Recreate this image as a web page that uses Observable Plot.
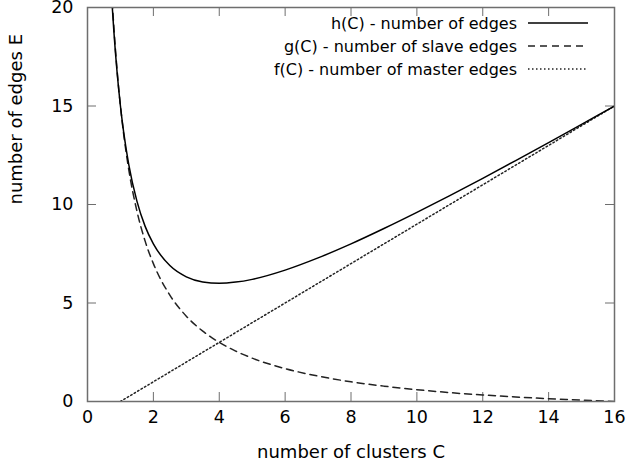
<!DOCTYPE html>
<html>
<head>
<meta charset="utf-8">
<script src="https://cdn.jsdelivr.net/npm/d3@7"></script>
<script src="https://cdn.jsdelivr.net/npm/@observablehq/plot@0.6"></script>
<style>
  html, body { margin: 0; padding: 0; background: #fff; }
  #chart svg { display: block; background: #fff; }
</style>
</head>
<body>
<div id="chart"></div>
<script>
// Values
const clusters = [0.75, 0.8, 0.9, 1, 1.1, 1.25, 1.5, 1.75, 2, 2.5, 3, 3.5, 4, 4.5, 5, 6, 7, 8, 9, 10, 11, 12, 13, 14, 15, 16];
const hEdges = [20.08, 18.8, 16.68, 15, 13.65, 12.05, 10.17, 8.89, 8, 6.9, 6.33, 6.07, 6, 6.06, 6.2, 6.67, 7.29, 8, 8.78, 9.6, 10.45, 11.33, 12.23, 13.14, 14.07, 15];
const gEdges = [20.33, 19, 16.78, 15, 13.55, 11.8, 9.67, 8.14, 7, 5.4, 4.33, 3.57, 3, 2.56, 2.2, 1.67, 1.29, 1, 0.78, 0.6, 0.45, 0.33, 0.23, 0.14, 0.07, 0];
const fClusters = [1, 2, 4, 6, 8, 10, 12, 14, 16];
const fEdges = [0, 1, 3, 5, 7, 9, 11, 13, 15];
const xTicks = [0, 2, 4, 6, 8, 10, 12, 14, 16];
const yTicks = [0, 5, 10, 15, 20];
const seriesNames = ["h(C) - number of edges", "g(C) - number of slave edges", "f(C) - number of master edges"];

const hData = clusters.map((c, i) => ({C: c, E: hEdges[i]}));
const gData = clusters.map((c, i) => ({C: c, E: gEdges[i]}));
const fData = fClusters.map((c, i) => ({C: c, E: fEdges[i]}));

const W = 626, H = 471;
const mL = 87, mR = 12, mT = 7, mB = 70;
const pw = W - mL - mR, ph = H - mT - mB;
const tickLen = 9;
const font = "DejaVu Sans";
const frameColor = "#6e6e6e";
const styles = [
  {stroke: "#000", strokeWidth: 1.5, dash: null},
  {stroke: "#222", strokeWidth: 1.5, dash: "7,5"},
  {stroke: "#222", strokeWidth: 1.5, dash: "1.5,2.5"}
];

const plot = Plot.plot({
  width: W, height: H,
  marginLeft: mL, marginRight: mR, marginTop: mT, marginBottom: mB,
  style: {fontFamily: font, background: "#fff"},
  x: {domain: [0, 16], axis: null},
  y: {domain: [0, 20], axis: null},
  marks: [
    // inward ticks: bottom, top
    Plot.tickX(xTicks, {x: d => d, insetTop: ph - tickLen, stroke: frameColor}),
    Plot.tickX(xTicks, {x: d => d, insetBottom: ph - tickLen, stroke: frameColor}),
    // inward ticks: left, right
    Plot.tickY(yTicks, {y: d => d, insetRight: pw - tickLen, stroke: frameColor}),
    Plot.tickY(yTicks, {y: d => d, insetLeft: pw - tickLen, stroke: frameColor}),
    // curves
    Plot.line(fData, {x: "C", y: "E", stroke: styles[2].stroke, strokeWidth: styles[2].strokeWidth, strokeDasharray: styles[2].dash, clip: true}),
    Plot.line(gData, {x: "C", y: "E", stroke: styles[1].stroke, strokeWidth: styles[1].strokeWidth, strokeDasharray: styles[1].dash, curve: "monotone-x", clip: true}),
    Plot.line(hData, {x: "C", y: "E", stroke: styles[0].stroke, strokeWidth: styles[0].strokeWidth, curve: "monotone-x", clip: true}),
    Plot.frame({stroke: frameColor, strokeWidth: 1.5}),
    // tick labels
    Plot.text(xTicks, {x: d => d, text: d => String(d), frameAnchor: "bottom", dy: 21, fontSize: 17.5, fill: "#000"}),
    Plot.text(yTicks, {y: d => d, text: d => String(d), frameAnchor: "left", textAnchor: "end", dx: -14, fontSize: 17.5, fill: "#000"}),
    // axis titles
    Plot.text(["number of clusters C"], {frameAnchor: "bottom", dy: 56, fontSize: 18, fill: "#000"}),
    Plot.text(["number of edges E"], {frameAnchor: "left", dx: -71, rotate: -90, fontSize: 18, fill: "#000"})
  ]
});

document.getElementById("chart").appendChild(plot);

// legend (key) inside top-right, gnuplot style
const svg = d3.select(plot);
const key = svg.append("g").attr("font-family", font).attr("font-size", 16);
const rowY = [23, 46, 69];
seriesNames.forEach((name, i) => {
  key.append("text")
    .attr("x", 517).attr("y", rowY[i]).attr("dy", "0.35em")
    .attr("text-anchor", "end").attr("fill", "#000").text(name);
  const ln = key.append("line")
    .attr("x1", 528).attr("x2", 588).attr("y1", rowY[i]).attr("y2", rowY[i])
    .attr("stroke", styles[i].stroke).attr("stroke-width", styles[i].strokeWidth);
  if (styles[i].dash) ln.attr("stroke-dasharray", styles[i].dash);
});
</script>
</body>
</html>
